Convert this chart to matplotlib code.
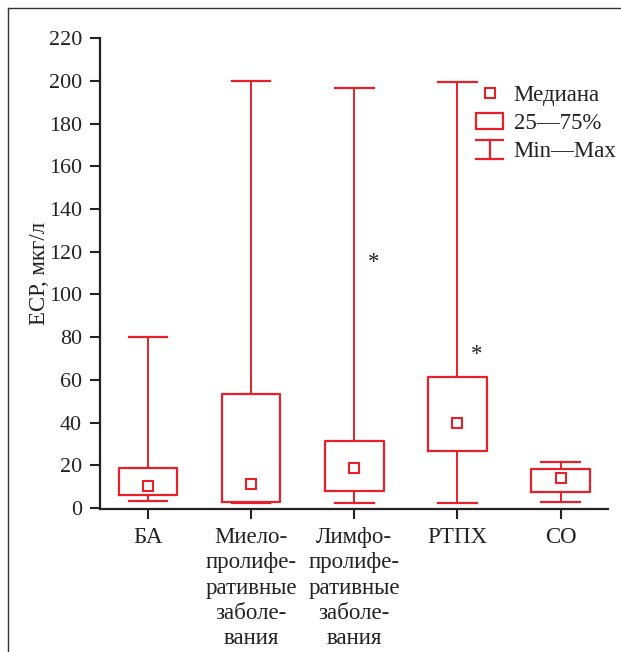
import matplotlib
matplotlib.use("Agg")
import matplotlib.pyplot as plt
from matplotlib.lines import Line2D
from matplotlib.patches import Rectangle
from matplotlib.legend_handler import HandlerBase

plt.rcParams['font.family'] = ['Liberation Serif', 'DejaVu Serif']

# --- DATA ---
groups = ['БА', 'Миело-\nпролифе-\nративные\nзаболе-\nвания',
          'Лимфо-\nпролифе-\nративные\nзаболе-\nвания', 'РТПХ', 'СО']
medians = [10.4, 11.3, 18.9, 39.7, 13.8]
q1 = [5.9, 2.8, 8.0, 26.5, 7.4]
q3 = [18.6, 53.3, 31.5, 61.4, 18.3]
mins = [3.4, 2.5, 2.5, 2.5, 2.8]
maxs = [80.0, 200.0, 196.5, 199.5, 21.4]
star_groups = [3, 4]        # 1-based positions with a "*" mark
star_y = [115, 72]
yticks = list(range(0, 221, 20))

RED = '#e8202a'
FS = 16.5

fig = plt.figure(figsize=(6.21, 6.52), dpi=100)
ax = fig.add_axes([0.161, 0.2193, 0.818, 0.722])

stats = []
for i in range(len(groups)):
    stats.append({'med': medians[i], 'mean': medians[i], 'q1': q1[i], 'q3': q3[i],
                  'whislo': mins[i], 'whishi': maxs[i], 'fliers': []})

ax.bxp(stats, positions=range(1, len(groups) + 1), widths=0.57, capwidths=0.375,
       showmeans=True, showfliers=False,
       boxprops=dict(color=RED, linewidth=1.6),
       whiskerprops=dict(color=RED, linewidth=1.4),
       capprops=dict(color=RED, linewidth=1.6),
       medianprops=dict(linewidth=0),
       meanprops=dict(marker='s', markersize=6.5, markerfacecolor='white',
                      markeredgecolor=RED, markeredgewidth=1.5))

for g, y in zip(star_groups, star_y):
    ax.text(g + 0.19, y, '*', fontsize=FS, ha='center', va='center', color='#222222')

ax.set_xlim(0.535, 5.46)
ax.set_ylim(-0.5, 220)
ax.set_yticks(yticks)
ax.set_xticks(range(1, len(groups) + 1))
ax.set_xticklabels(groups, linespacing=1.27)
ax.tick_params(axis='x', labelsize=FS)
ax.tick_params(axis='y', labelsize=FS - 0.7)
ax.tick_params(axis='both', length=7, width=1.5, colors='#222222', pad=6)
ax.set_ylabel('ЕСР, мкг/л', fontsize=FS, color='#222222', labelpad=-1)
for s in ['top', 'right']:
    ax.spines[s].set_visible(False)
for s in ['left', 'bottom']:
    ax.spines[s].set_linewidth(1.6)
    ax.spines[s].set_color('#222222')


class HandlerMinMax(HandlerBase):
    def create_artists(self, legend, orig_handle, xdescent, ydescent,
                       width, height, fontsize, trans):
        x0, x1 = -xdescent, -xdescent + width
        y0, y1 = -ydescent - 1, -ydescent + height + 1
        xm = (x0 + x1) / 2
        kw = dict(color=RED, linewidth=1.6, transform=trans)
        return [Line2D([x0, x1], [y0, y0], **kw),
                Line2D([x0, x1], [y1, y1], **kw),
                Line2D([xm, xm], [y0, y1], **kw)]


h_med = Line2D([], [], linestyle='none', marker='s', markersize=6.5,
               markerfacecolor='white', markeredgecolor=RED, markeredgewidth=1.5)
h_box = Rectangle((0, 0), 1, 1, facecolor='white', edgecolor=RED, linewidth=1.6)
h_mm = object()
ax.legend([h_med, h_box, h_mm], ['Медиана', '25—75%', 'Min—Max'],
          handler_map={h_mm: HandlerMinMax()},
          loc='upper left', bbox_to_anchor=(0.74, 0.9), frameon=False,
          fontsize=FS, handlelength=1.2, handleheight=0.7, handletextpad=0.45,
          labelspacing=0.3, borderpad=0, borderaxespad=0, labelcolor='#222222')

# thin frame around the figure (top and left edges)
fig.add_artist(Line2D([8 / 621, 1], [1 - 8 / 652, 1 - 8 / 652], color='#333333', linewidth=1.0))
fig.add_artist(Line2D([8 / 621, 8 / 621], [0, 1 - 8 / 652], color='#333333', linewidth=1.0))

fig.savefig('out.png', dpi=100)
